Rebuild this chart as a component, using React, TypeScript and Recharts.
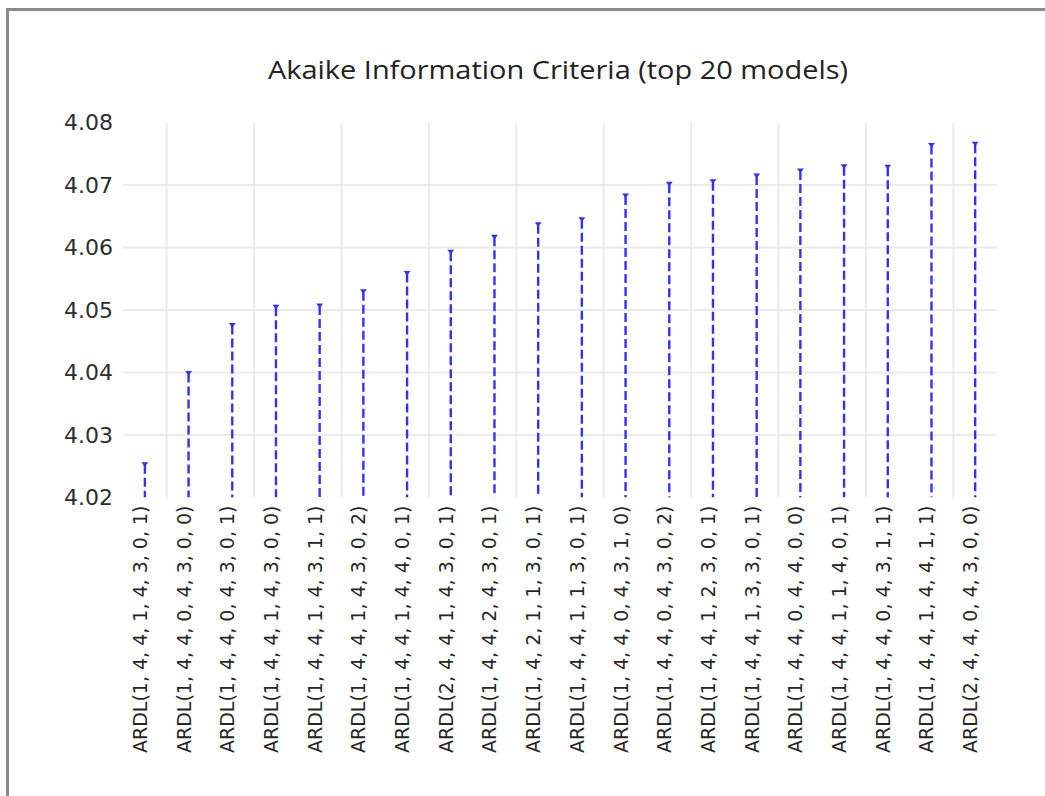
import React from 'react';
import { ComposedChart, Bar, XAxis, YAxis, CartesianGrid } from 'recharts';

const models: string[] = [
  'ARDL(1, 4, 4, 1, 4, 3, 0, 1)',
  'ARDL(1, 4, 4, 0, 4, 3, 0, 0)',
  'ARDL(1, 4, 4, 0, 4, 3, 0, 1)',
  'ARDL(1, 4, 4, 1, 4, 3, 0, 0)',
  'ARDL(1, 4, 4, 1, 4, 3, 1, 1)',
  'ARDL(1, 4, 4, 1, 4, 3, 0, 2)',
  'ARDL(1, 4, 4, 1, 4, 4, 0, 1)',
  'ARDL(2, 4, 4, 1, 4, 3, 0, 1)',
  'ARDL(1, 4, 4, 2, 4, 3, 0, 1)',
  'ARDL(1, 4, 2, 1, 1, 3, 0, 1)',
  'ARDL(1, 4, 4, 1, 1, 3, 0, 1)',
  'ARDL(1, 4, 4, 0, 4, 3, 1, 0)',
  'ARDL(1, 4, 4, 0, 4, 3, 0, 2)',
  'ARDL(1, 4, 4, 1, 2, 3, 0, 1)',
  'ARDL(1, 4, 4, 1, 3, 3, 0, 1)',
  'ARDL(1, 4, 4, 0, 4, 4, 0, 0)',
  'ARDL(1, 4, 4, 1, 1, 4, 0, 1)',
  'ARDL(1, 4, 4, 0, 4, 3, 1, 1)',
  'ARDL(1, 4, 4, 1, 4, 4, 1, 1)',
  'ARDL(2, 4, 4, 0, 4, 3, 0, 0)',
];

const aicValues: number[] = [
  4.0254, 4.04, 4.0477, 4.0506, 4.0508, 4.0531, 4.056, 4.0594, 4.0618, 4.0638,
  4.0646, 4.0684, 4.0703, 4.0707, 4.0716, 4.0724, 4.0731, 4.073, 4.0765, 4.0767,
];

const yTicks: number[] = [4.02, 4.03, 4.04, 4.05, 4.06, 4.07, 4.08];
const horizontalGridValues: number[] = [4.03, 4.04, 4.05, 4.06, 4.07];
// vertical grid lines sit at the left edge of these category bands
const verticalGridBands: number[] = [1, 3, 5, 7, 9, 11, 13, 15, 17, 19];

const data = models.map((name, i) => ({ name, aic: aicValues[i] }));

const STEM = '#3030ff';

const Stem = (props: any) => {
  const { x, y, width, height } = props;
  if (x == null || y == null) return null;
  const cx = x + width / 2;
  return (
    <g>
      <line x1={cx} y1={y + 1} x2={cx} y2={y + height} stroke={STEM} strokeWidth={2.4} strokeDasharray="9 4" />
      <polygon points={`${cx - 3.5},${y - 1.5} ${cx + 3.5},${y - 1.5} ${cx},${y + 3}`} fill={STEM} />
    </g>
  );
};

const YTick = (props: any) => {
  const { x, y, payload } = props;
  return (
    <text x={x} y={y} textAnchor="end" dominantBaseline="central" fill="#2e2e2e" fontSize={22} fontFamily="DejaVu Sans, Verdana, sans-serif">
      {payload.value.toFixed(2)}
    </text>
  );
};

const XTick = (props: any) => {
  const { x, y, payload } = props;
  return (
    <text
      x={x + 2}
      y={y}
      transform={`rotate(-90 ${x + 2} ${y})`}
      textAnchor="end"
      fill="#262626"
      fontSize={19}
      fontFamily="DejaVu Sans, Verdana, sans-serif"
    >
      {payload.value}
    </text>
  );
};

const verticalGen = (args: any) => {
  const { offset } = args;
  const n = models.length;
  return verticalGridBands.map((k) => offset.left + (k * offset.width) / n);
};

export default function App() {
  return (
    <div style={{ position: 'absolute', left: 0, top: 0, width: 1045, height: 796, background: '#fff', overflow: 'hidden' }}>
      <div style={{ position: 'absolute', left: 6, top: 8, right: -10, bottom: -10, borderLeft: '3px solid #8a8a8a', borderTop: '3px solid #8a8a8a' }} />
      <svg style={{ position: 'absolute', left: 0, top: 0 }} width={1045} height={110}>
        <text x={558} y={79} textAnchor="middle" fontSize={25} fill="#222" fontFamily="Open Sans, Noto Sans, sans-serif" textLength={580} lengthAdjust="spacingAndGlyphs">
          Akaike Information Criteria (top 20 models)
        </text>
      </svg>
      <div style={{ position: 'absolute', left: 0, top: 0 }}>
        <ComposedChart width={1045} height={796} data={data} margin={{ top: 122.5, right: 48, bottom: 0.5, left: 0 }}>
          <CartesianGrid
            stroke="#ebebeb"
            strokeWidth={2}
            horizontalValues={horizontalGridValues}
            verticalCoordinatesGenerator={verticalGen}
          />
          <XAxis
            dataKey="name"
            type="category"
            height={298}
            axisLine={false}
            tickLine={false}
            tickSize={0}
            tickMargin={8}
            interval={0}
            tick={<XTick />}
          />
          <YAxis
            type="number"
            domain={[4.02, 4.08]}
            ticks={yTicks}
            allowDataOverflow
            width={123}
            axisLine={false}
            tickLine={false}
            tickSize={0}
            tickMargin={10}
            tick={<YTick />}
          />
          <Bar dataKey="aic" isAnimationActive={false} shape={<Stem />} />
        </ComposedChart>
      </div>
    </div>
  );
}
